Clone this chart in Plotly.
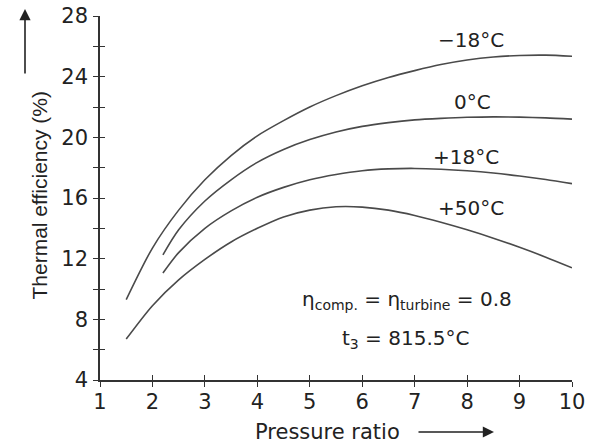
import plotly.graph_objects as go

# ---- data ----
x_m18 = [1.5, 2.0, 2.5, 3.0, 3.5, 4.0, 4.5, 5.0, 5.5, 6.0, 6.5, 7.0, 7.5, 8.0, 8.5, 9.0, 9.5, 10.0]
y_m18 = [9.3, 12.7, 15.2, 17.2, 18.8, 20.1, 21.1, 22.0, 22.75, 23.4, 23.95, 24.4, 24.8, 25.1, 25.3, 25.4, 25.42, 25.35]

x_0 = [2.2, 2.5, 3.0, 3.5, 4.0, 4.5, 5.0, 5.5, 6.0, 6.5, 7.0, 7.5, 8.0, 8.5, 9.0, 9.5, 10.0]
y_0 = [12.25, 13.9, 15.8, 17.2, 18.35, 19.2, 19.85, 20.35, 20.72, 20.97, 21.15, 21.25, 21.32, 21.35, 21.33, 21.28, 21.2]

x_p18 = [2.2, 2.5, 3.0, 3.5, 4.0, 4.5, 5.0, 5.5, 6.0, 6.5, 7.0, 7.5, 8.0, 8.5, 9.0, 9.5, 10.0]
y_p18 = [11.05, 12.4, 14.0, 15.15, 16.05, 16.7, 17.2, 17.55, 17.8, 17.92, 17.95, 17.9, 17.8, 17.65, 17.45, 17.22, 16.95]

x_p50 = [1.5, 2.0, 2.5, 3.0, 3.5, 4.0, 4.5, 5.0, 5.5, 6.0, 6.5, 7.0, 7.5, 8.0, 8.5, 9.0, 9.5, 10.0]
y_p50 = [6.7, 8.9, 10.6, 11.95, 13.1, 14.0, 14.75, 15.2, 15.42, 15.4, 15.2, 14.85, 14.4, 13.9, 13.35, 12.75, 12.1, 11.4]

curve_labels = ["\u221218\u00b0C", "0\u00b0C", "+18\u00b0C", "+50\u00b0C"]
label_x = [8.08, 8.1, 7.98, 8.08]
label_y = [26.4, 22.33, 18.7, 15.34]

x_ticks = [1, 2, 3, 4, 5, 6, 7, 8, 9, 10]
x_ticktext = ["1", "2", "3", "4", "5", "6", "7", "8", "9", "10"]
y_ticks = [4, 6, 8, 10, 12, 14, 16, 18, 20, 22, 24, 26, 28]
y_ticktext = ["4", "", "8", "", "12", "", "16", "", "20", "", "24", "", "28"]

# ---- layout geometry (pixels) ----
W, H = 597, 446
L, R, T, B = 100, 25, 16, 66
PW, PH = W - L - R, H - T - B

def px(xp):
    return (xp - L) / PW

def py(yp):
    return (H - B - yp) / PH

LINE = "#4a4a4a"
TXT = "#222222"
FONT = "DejaVu Sans"

fig = go.Figure()
for xs, ys in [(x_m18, y_m18), (x_0, y_0), (x_p18, y_p18), (x_p50, y_p50)]:
    fig.add_trace(go.Scatter(x=xs, y=ys, mode="lines",
                             line=dict(color=LINE, width=1.6, shape="spline", smoothing=0.8),
                             showlegend=False, hoverinfo="skip"))

# invisible trace for the inside-tick overlay axes
fig.add_trace(go.Scatter(x=[1], y=[4], xaxis="x2", yaxis="y2", mode="markers",
                         marker=dict(opacity=0), showlegend=False, hoverinfo="skip"))

for t, lx, ly in zip(curve_labels, label_x, label_y):
    fig.add_annotation(x=lx, y=ly, text=t, showarrow=False, yanchor="middle",
                       font=dict(family=FONT, size=20, color=TXT))

fig.add_annotation(x=px(300), y=py(300), xref="paper", yref="paper", xanchor="left", yanchor="middle",
                   text="\u03b7<sub>comp.</sub> = \u03b7<sub>turbine</sub> = 0.8", showarrow=False,
                   font=dict(family=FONT, size=20, color=TXT))
fig.add_annotation(x=px(405), y=py(339), xref="paper", yref="paper", yanchor="middle",
                   text="t<sub>3</sub> = 815.5\u00b0C", showarrow=False,
                   font=dict(family=FONT, size=20, color=TXT))

# axis titles with arrows
fig.add_annotation(x=px(25), y=py(195), xref="paper", yref="paper", text="Thermal efficiency (%)",
                   textangle=-90, showarrow=False, yanchor="middle",
                   font=dict(family="Liberation Sans", size=21, color=TXT))
fig.add_annotation(x=px(25), y=py(9), xref="paper", yref="paper", text="", showarrow=True,
                   ax=0, ay=66, arrowhead=2, arrowsize=1.4, arrowwidth=1.6, arrowcolor="#222")
fig.add_annotation(x=px(402), y=py(432), xref="paper", yref="paper", text="Pressure ratio",
                   xanchor="right", yanchor="middle", showarrow=False,
                   font=dict(family=FONT, size=21, color=TXT))
fig.add_annotation(x=px(494), y=py(432), xref="paper", yref="paper", text="", showarrow=True,
                   ax=-77, ay=0, arrowhead=2, arrowsize=1.4, arrowwidth=1.6, arrowcolor="#222")

axis_common = dict(showgrid=False, zeroline=False, tickcolor="#333", tickwidth=1.4, ticklen=5)

fig.update_layout(
    width=W, height=H, margin=dict(l=L, r=R, t=T, b=B, autoexpand=False),
    plot_bgcolor="white", paper_bgcolor="white",
    xaxis=dict(range=[1, 10], tickvals=x_ticks, ticktext=x_ticktext, ticks="outside", showline=True,
               linecolor="#333", linewidth=1.6,
               tickfont=dict(family=FONT, size=21, color=TXT), ticklabelstandoff=-3, **axis_common),
    yaxis=dict(range=[4, 28], tickvals=y_ticks, ticktext=y_ticktext, ticks="outside", showline=True,
               linecolor="#333", linewidth=1.6,
               tickfont=dict(family=FONT, size=21, color=TXT), ticklabelstandoff=1, **axis_common),
    xaxis2=dict(range=[1, 10], tickvals=x_ticks, ticks="inside", showticklabels=False, showline=False,
                overlaying="x", side="bottom", anchor="y2", **axis_common),
    yaxis2=dict(range=[4, 28], tickvals=y_ticks, ticks="inside", showticklabels=False, showline=False,
                overlaying="y", side="left", anchor="x2", **axis_common),
)

fig.write_html("out.html", config={"displayModeBar": False},
               post_script="document.body.style.margin='0px';")
